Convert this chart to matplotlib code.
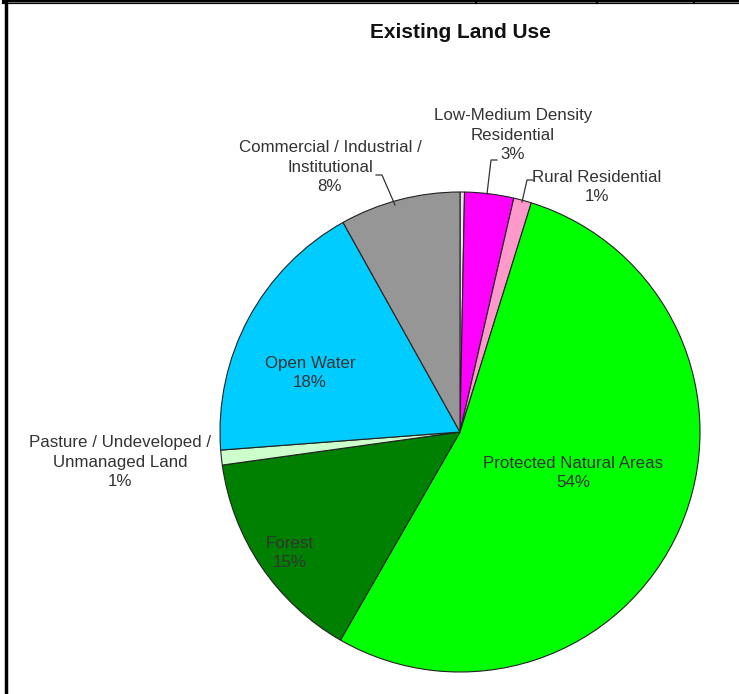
import matplotlib
matplotlib.use("Agg")
import matplotlib.pyplot as plt
from matplotlib.lines import Line2D

plt.rcParams['font.family'] = ['Liberation Sans', 'DejaVu Sans']

# clockwise from 12 o'clock
categories = ["", "Low-Medium Density\nResidential", "Rural Residential",
              "Protected Natural Areas", "Forest", "Pasture / Undeveloped /\nUnmanaged Land",
              "Open Water", "Commercial / Industrial /\nInstitutional"]
shares = [0.3, 3.3, 1.2, 53.5, 14.5, 1.0, 18.1, 8.1]
pct_labels = ["", "3%", "1%", "54%", "15%", "1%", "18%", "8%"]
colors = ["#e8e8e8", "#ff00ff", "#ff99cc", "#00ff00", "#008000", "#ccffcc", "#00ccff", "#969696"]

W, H = 739, 694
fig = plt.figure(figsize=(W / 100, H / 100), dpi=100)

# pie centre ~(460, 432) px, radius ~240 px
cx, cy, r = 460, 432, 240
ax = fig.add_axes([(cx - r) / W, 1 - (cy + r) / H, 2 * r / W, 2 * r / H])
wedges, _ = ax.pie(shares, colors=colors, startangle=90, counterclock=False,
                   wedgeprops=dict(edgecolor="#222222", linewidth=0.8))
ax.set_xlim(-1, 1)
ax.set_ylim(-1, 1)
ax.set_aspect('equal')
ax.axis('off')

txt = dict(fontsize=12.2, color="#333333", ha="center", va="center", linespacing=1.4)


def px(x, y):
    return x / W, 1 - y / H


fig.text(*px(460, 33), "Existing Land Use", fontsize=15, fontweight="bold",
         ha="center", va="center", color="#111111")

# labels: (index, x, y) in pixels
label_pos = {1: (513, 135), 2: (597, 187), 3: (573, 473), 4: (290, 553),
             5: (120, 462), 6: (310, 373), 7: (330, 167)}
for i, (x, y) in label_pos.items():
    fig.text(*px(x, y), categories[i] + "\n" + pct_labels[i], **txt)

# leader lines
leaders = [[(497, 160), (491, 160), (487, 194)],
           [(533, 180), (527, 180), (522, 202)],
           [(376, 175), (382, 175), (395, 205)]]
for pts in leaders:
    xs = [p[0] / W for p in pts]
    ys = [1 - p[1] / H for p in pts]
    fig.add_artist(Line2D(xs, ys, color="#333333", linewidth=0.9))

# frame remnants: double top rule with small gaps, thick left rule
gaps = [0, 475, 477, 596, 598, 693, 695, W]
for a, b in zip(gaps[0::2], gaps[1::2]):
    fig.add_artist(Line2D([max(a, 4) / W, b / W], [1 - 2 / H, 1 - 2 / H],
                          color="black", linewidth=3))
    fig.add_artist(Line2D([max(a, 6) / W, b / W], [1 - 2 / H, 1 - 2 / H],
                          color="#888888", linewidth=0.6))
fig.add_artist(Line2D([6 / W, 6 / W], [0, 1 - 1 / H], color="black", linewidth=2.5))

fig.savefig("out.png", dpi=100, facecolor="white")
